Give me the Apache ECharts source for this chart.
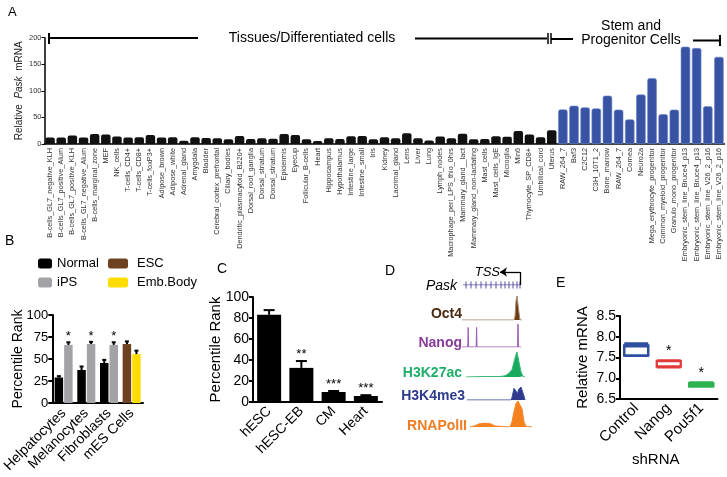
<!DOCTYPE html>
<html><head><meta charset="utf-8">
<script src="https://cdn.jsdelivr.net/npm/echarts@6/dist/echarts.min.js"></script>
<style>html,body{margin:0;padding:0;background:#fff}#c{width:727px;height:477px}</style>
</head><body><div id="c"></div>
<script>
// ---------- Panel A data ----------
const tissueCats = ['B-cells_GL7_negative_KLH','B-cells_GL7_positive_Alum','B-cells_GL7_positive_KLH','B-cells_GL7_negative_Alum','B-cells_marginal_zone','MEF','NK_cells','T-cells_CD4+','T-cells_CD8+','T-cells_foxP3+','Adipose_brown','Adipose_white','Adrenal_gland','Amygdala','Bladder','Cerebral_cortex_prefrontal','Ciliary_bodies','Dendritic_plasmacytoid_B220+','Dorsal_root_ganglia','Dorsal_striatum','Dorsal_striatum','Epidermis','Eyecup','Follicular_B-cells','Heart','Hippocampus','Hypothalamus','Intestine_large','Intestine_small','Iris','Kidney','Lacrimal_gland','Lens','Liver','Lung','Lymph_nodes','Macrophage_peri_LPS_thio_0hrs','Mammary_gland__lact','Mammary_gland_non-lactating','Mast_cells','Mast_cells_IgE','Microglia','Min6','Thymocyte_SP_CD8+','Umbilical_cord','Uterus'];
const tissueVals = [12,12,16,12,19,18,14,12,12.5,17,12,12.5,6,12.5,11.5,11,9,15,9.5,11,10,19,17,9,5.6,11,9.6,14.4,15,9,12.6,11,20,11,6.5,14,11,19.4,9,9.4,14.4,13.8,24.5,18,12.5,25.7];
const stemCats = ['RAW_264_7','Baf3','C2C12','C3H_10T1_2','Bone_marrow','RAW_264_7','Cornea','Neuro2a','Mega_erythrocyte_progenitor','Common_myeloid_progenitor','Granulo_mono_progenitor','Embryonic_stem_line_Bruce4_p13','Embryonic_stem_line_Bruce4_p13','Embryonic_stem_line_V26_2_p16','Embryonic_stem_line_V26_2_p16'];
const stemVals = [65,72,69,67,91,64.6,46.4,93,124,56,64.6,183,180.5,71,164];
const aTicks = [0,50,100,150,200];

// ---------- Panel B data ----------
const bCats = ['Helpatocytes','Melanocytes','Fibroblasts','mES Cells'];
const bNormal = [29,37.5,45.5,null];
const bNormalErr = [1.5,4,3.5,null];
const bIPS = [66,67,66,null];
const bIPSErr = [3,2.5,3,null];
const bESC = [null,null,null,67];
const bESCErr = [null,null,null,3];
const bEmb = [null,null,null,55.5];
const bEmbErr = [null,null,null,4];
const bStars = ['*','*','*',''];

// ---------- Panel C data ----------
const cCats = ['hESC','hESC-EB','CM','Heart'];
const cVals = [83,32.5,9.5,5.7];
const cErr = [4.5,6.5,1,0.8];
const cStars = ['','**','***','***'];

// ---------- Panel D data (position, signal) ----------
const geneSpan = [[8,0],[65,0]];
const geneExons = [11,16,21,26,31,36,41,46,50,54,58,62,65];
const tssPos = 65;
const oct4Track = [[7,0],[59,0],[60,0.15],[61,0.8],[62,1],[63,0.95],[64,0.3],[65,0],[67,0]];
const nanogTrack = [[7,0],[12.8,0],[13.2,0.85],[13.6,0],[21.2,0],[21.6,0.85],[22,0],[62.6,0],[63,1],[63.4,0],[66,0]];
const h3k27Track = [[11,0],[30,0.02],[45,0.02],[50,0.05],[54,0.15],[57,0.3],[59,0.6],[61,0.9],[62,1],[63,0.95],[64,0.6],[66,0.2],[68,0.03],[70,0]];
const h3k4Track = [[12,0],[56,0],[57,0.2],[59,0.9],[60,1],[61,0.8],[62.5,0.5],[63.5,0.8],[66,1],[67,0.9],[69,0.3],[70,0]];
const polTrack = [[15,0],[20,0.05],[24,0.12],[30,0.15],[36,0.12],[40,0.04],[42,0],[55,0],[57,0.2],[59,0.6],[61,0.9],[63,1],[65,0.95],[67,0.7],[69,0.2],[71,0.02],[77,0]];

// ---------- Panel E data ----------
const eCats = ['Control','Nanog','Pou5f1'];
const eBoxes = [[7.54,7.55,7.77,7.79,7.84],[7.26,7.28,7.285,7.415,7.43],[6.8,6.81,6.85,6.88,6.9]];
const eStars = ['','*','*'];

const FONT = 'Liberation Sans, Arial, Helvetica, sans-serif';
const chart = echarts.init(document.getElementById('c'));

function errSeries(gi, vals, errs, offset, capW, lw, stars, starSize, starGap){
  return {
    type:'custom', xAxisIndex:gi, yAxisIndex:gi, z:10, silent:true,
    data: vals.map((v,i)=>[i,v,errs[i]]).filter(d=>d[1]!=null),
    renderItem:(params, api)=>{
      const i=api.value(0), v=api.value(1), e=api.value(2);
      const p0=api.coord([i,v]), p1=api.coord([i,v+e]);
      const x=p0[0]+offset;
      const ch=[
        {type:'line', shape:{x1:x,y1:p0[1],x2:x,y2:p1[1]}, style:{stroke:'#000',lineWidth:lw}},
        {type:'line', shape:{x1:x-capW/2,y1:p1[1],x2:x+capW/2,y2:p1[1]}, style:{stroke:'#000',lineWidth:lw}}
      ];
      const s = stars ? stars[i] : '';
      if (s) ch.push({type:'text', style:{text:s, x:x, y:p1[1]-starGap, align:'center', verticalAlign:'bottom', fontSize:starSize, fontFamily:FONT, fill:'#000'}});
      return {type:'group', children:ch};
    }
  };
}
function starSeries(gi, boxes, stars, gap, size){
  return {
    type:'custom', xAxisIndex:gi, yAxisIndex:gi, z:10, silent:true,
    data: boxes.map((b,i)=>[i,b[4]]),
    renderItem:(params, api)=>{
      const i=api.value(0);
      const p=api.coord([i,api.value(1)]);
      return {type:'text', style:{text:stars[i], x:p[0], y:p[1]-gap, align:'center', verticalAlign:'bottom', fontSize:size, fontFamily:FONT, fill:'#000'}};
    }
  };
}
function trackSeries(gi, data, lineColor, fillColor){
  return {type:'line', xAxisIndex:gi, yAxisIndex:gi, data:data, symbol:'none', silent:true,
    lineStyle:{color:lineColor, width:1}, areaStyle:{color:fillColor, opacity:1}, itemStyle:{color:fillColor}};
}
const hiddenX = gi => ({type:'value', gridIndex:gi, min:0, max:80, show:false});
const hiddenY = gi => ({type:'value', gridIndex:gi, min:0, max:1, show:false});

const allCats = tissueCats.concat(stemCats);
const axisBlack = w => ({show:true, lineStyle:{color:'#000', width:w}});

const option = {
  animation:false,
  backgroundColor:'#fff',
  textStyle:{fontFamily:FONT},
  grid:[
    {left:44.5, top:37.7, width:680, height:106.3},   //0 A
    {left:47, top:315, width:96, height:88},          //1 B
    {left:253, top:297, width:129, height:105},       //2 C
    {left:620, top:316, width:97.5, height:83},       //3 E
    {left:455, top:265, width:80, height:20},         //4 gene
    {left:455, top:296, width:80, height:24},         //5 Oct4
    {left:455, top:324, width:80, height:23},         //6 Nanog
    {left:455, top:352, width:80, height:25},         //7 H3K27ac
    {left:455, top:387, width:80, height:13},         //8 H3K4me3
    {left:455, top:401, width:80, height:26}          //9 RNAPolII
  ],
  xAxis:[
    {type:'category', gridIndex:0, data:allCats, axisLine:axisBlack(1.5), axisTick:{show:false},
     axisLabel:{rotate:90, interval:0, fontSize:7.3, color:'#333', margin:4}},
    {type:'category', gridIndex:1, data:bCats, axisLine:axisBlack(2), axisTick:{alignWithLabel:true, length:4, lineStyle:{width:2,color:'#000'}},
     axisLabel:{rotate:45, interval:0, fontSize:14, color:'#000', margin:8}},
    {type:'category', gridIndex:2, data:cCats, axisLine:axisBlack(2), axisTick:{alignWithLabel:true, length:4, lineStyle:{width:2,color:'#000'}},
     axisLabel:{rotate:45, interval:0, fontSize:14, color:'#000', margin:7}},
    {type:'category', gridIndex:3, data:eCats, axisLine:axisBlack(2), axisTick:{alignWithLabel:true, length:4, lineStyle:{width:2,color:'#000'}},
     axisLabel:{rotate:45, interval:0, fontSize:15, color:'#000', margin:7},
     name:'shRNA', nameLocation:'middle', nameGap:53, nameMoveOverlap:false, nameTextStyle:{fontSize:15, color:'#000', padding:[0,26,0,0]}},
    hiddenX(4), hiddenX(5), hiddenX(6), hiddenX(7), hiddenX(8), hiddenX(9)
  ],
  yAxis:[
    {type:'value', gridIndex:0, min:aTicks[0], max:aTicks[aTicks.length-1], interval:50, axisLine:axisBlack(1.5),
     axisTick:{show:true, length:3, lineStyle:{color:'#000'}}, splitLine:{show:false},
     axisLabel:{fontSize:7.5, color:'#333', margin:3},
     name:'{n|Relative  }{i|Pask}{n|  mRNA}', nameLocation:'middle', nameGap:20, nameMoveOverlap:false,
     nameTextStyle:{rich:{n:{fontSize:10, color:'#222', fontFamily:FONT}, i:{fontSize:10, fontStyle:'italic', color:'#222', fontFamily:FONT}}}},
    {type:'value', gridIndex:1, min:0, max:100, interval:25, axisLine:axisBlack(2),
     axisTick:{show:true, length:4, lineStyle:{color:'#000', width:2}}, splitLine:{show:false},
     axisLabel:{fontSize:13, color:'#000', margin:4},
     name:'Percentile Rank', nameLocation:'middle', nameGap:27, nameMoveOverlap:false, nameTextStyle:{fontSize:14, color:'#000'}},
    {type:'value', gridIndex:2, min:0, max:100, interval:20, axisLine:axisBlack(2),
     axisTick:{show:true, length:4, lineStyle:{color:'#000', width:2}}, splitLine:{show:false},
     axisLabel:{fontSize:14, color:'#000', margin:4},
     name:'Percentile Rank', nameLocation:'middle', nameGap:30, nameMoveOverlap:false, nameTextStyle:{fontSize:15, color:'#000'}},
    {type:'value', gridIndex:3, min:6.5, max:8.5, interval:0.5, axisLine:axisBlack(2),
     axisTick:{show:true, length:4, lineStyle:{color:'#000', width:2}}, splitLine:{show:false},
     axisLabel:{fontSize:14, color:'#000', margin:4, formatter:v=>v.toFixed(1)},
     name:'Relative mRNA', nameLocation:'middle', nameGap:30, nameMoveOverlap:false, nameTextStyle:{fontSize:15, color:'#000'}},
    hiddenY(4), hiddenY(5), hiddenY(6), hiddenY(7), hiddenY(8), hiddenY(9)
  ],
  legend:[
    {data:['Normal'], left:33, top:252, itemWidth:14, itemHeight:10, icon:'roundRect', textStyle:{fontSize:13, color:'#000', fontFamily:FONT}, selectedMode:false},
    {data:['iPS'], left:33, top:271, itemWidth:14, itemHeight:10, icon:'roundRect', textStyle:{fontSize:13, color:'#000', fontFamily:FONT}, selectedMode:false},
    {data:['ESC'], left:103, top:252, itemWidth:20, itemHeight:10, icon:'roundRect', textStyle:{fontSize:13, color:'#000', fontFamily:FONT, padding:[0,0,0,4]}, selectedMode:false},
    {data:['Emb.Body'], left:103, top:271, itemWidth:20, itemHeight:10, icon:'roundRect', textStyle:{fontSize:13, color:'#000', fontFamily:FONT, padding:[0,0,0,4]}, selectedMode:false}
  ],
  series:[
    // Panel A
    {name:'Tissues', type:'bar', xAxisIndex:0, yAxisIndex:0, stack:'a', barCategoryGap:'15%',
     data:tissueVals.concat(stemVals.map(()=>'-')), itemStyle:{color:'#111', borderRadius:[2,2,0,0]}},
    {name:'Stem', type:'bar', xAxisIndex:0, yAxisIndex:0, stack:'a', barCategoryGap:'15%',
     data:tissueVals.map(()=>'-').concat(stemVals), itemStyle:{color:'#3953a4', borderColor:'#6d86c8', borderWidth:0.6, borderRadius:[2,2,0,0]}},
    // Panel B
    {name:'Normal', type:'bar', xAxisIndex:1, yAxisIndex:1, stack:'x', barWidth:8.5, barGap:'12%',
     data:bNormal.map(v=>v==null?'-':v), itemStyle:{color:'#000'}},
    {name:'iPS', type:'bar', xAxisIndex:1, yAxisIndex:1, stack:'y', barWidth:8.5, barGap:'12%',
     data:bIPS.map(v=>v==null?'-':v), itemStyle:{color:'#a3a3a7'}},
    {name:'ESC', type:'bar', xAxisIndex:1, yAxisIndex:1, stack:'x', barWidth:8.5, barGap:'12%',
     data:bESC.map(v=>v==null?'-':v), itemStyle:{color:'#6e4220'}},
    {name:'Emb.Body', type:'bar', xAxisIndex:1, yAxisIndex:1, stack:'y', barWidth:8.5, barGap:'12%',
     data:bEmb.map(v=>v==null?'-':v), itemStyle:{color:'#ffdc00'}},
    errSeries(1, bNormal, bNormalErr, -4.75, 4, 2, null, 13, 0),
    errSeries(1, bIPS, bIPSErr, 4.75, 4, 2, bStars, 13, -1),
    errSeries(1, bESC, bESCErr, -4.75, 4, 2, null, 13, 0),
    errSeries(1, bEmb, bEmbErr, 4.75, 4, 2, null, 13, 0),
    // Panel C
    {name:'C', type:'bar', xAxisIndex:2, yAxisIndex:2, barWidth:24, data:cVals, itemStyle:{color:'#000'}},
    errSeries(2, cVals, cErr, 0, 11, 2, cStars, 13, 0),
    // Panel E
    {name:'E', type:'boxplot', xAxisIndex:3, yAxisIndex:3, boxWidth:[24,24],
     data:[
       {value:eBoxes[0], itemStyle:{color:'#fff', borderColor:'#2f4fa0', borderWidth:2.5}},
       {value:eBoxes[1], itemStyle:{color:'#fff', borderColor:'#e23a3a', borderWidth:2.3}},
       {value:eBoxes[2], itemStyle:{color:'#2db24f', borderColor:'#2db24f', borderWidth:2.5}}
     ]},
    starSeries(3, eBoxes, eStars, 2, 14),
    // Panel D
    {type:'line', xAxisIndex:4, yAxisIndex:4, data:geneSpan, symbol:'none', silent:true, lineStyle:{color:'#5656a6', width:1.2},
     markLine:{silent:true, symbol:['none','arrow'], symbolSize:7, label:{show:false}, lineStyle:{color:'#000', width:1.3, type:'solid'},
       data:[
         [{coord:[tssPos,0], symbol:'none'},{coord:[tssPos,0.65], symbol:'none'}],
         [{coord:[tssPos,0.65], symbol:'none'},{coord:[tssPos-20,0.65], symbol:'arrow'}]
       ]}},
    {type:'scatter', xAxisIndex:4, yAxisIndex:4, data:geneExons.map(p=>[p,0]), symbol:'rect', symbolSize:[1.3,7], silent:true, itemStyle:{color:'#5656a6'}},
    trackSeries(5, oct4Track, '#a88a6e', '#6b3a12'),
    trackSeries(6, nanogTrack, '#9b5bb5', '#8a3c9c'),
    trackSeries(7, h3k27Track, '#3cb878', '#1aaa5e'),
    trackSeries(8, h3k4Track, '#3a4a9c', '#2e3a8c'),
    trackSeries(9, polTrack, '#f5862a', '#f5821f')
  ],
  graphic:[
    {type:'text', left:8, top:6, style:{text:'A', fontSize:13, fill:'#000', fontFamily:FONT}},
    {type:'text', left:5, top:234, style:{text:'B', fontSize:14, fill:'#000', fontFamily:FONT}},
    {type:'text', left:217, top:262, style:{text:'C', fontSize:14, fill:'#000', fontFamily:FONT}},
    {type:'text', left:385, top:264, style:{text:'D', fontSize:14, fill:'#000', fontFamily:FONT}},
    {type:'text', left:556, top:276, style:{text:'E', fontSize:14, fill:'#000', fontFamily:FONT}},
    // Panel A header brackets
    {type:'line', shape:{x1:49,y1:38,x2:198,y2:38}, style:{stroke:'#000', lineWidth:2}},
    {type:'line', shape:{x1:49,y1:33,x2:49,y2:44}, style:{stroke:'#000', lineWidth:2}},
    {type:'text', x:312, y:38, style:{text:'Tissues/Differentiated cells', fontSize:14, fill:'#000', fontFamily:FONT, align:'center', verticalAlign:'middle'}},
    {type:'line', shape:{x1:415,y1:38.5,x2:547,y2:38.5}, style:{stroke:'#000', lineWidth:2}},
    {type:'line', shape:{x1:548,y1:33,x2:548,y2:44}, style:{stroke:'#000', lineWidth:1.5}},
    {type:'line', shape:{x1:551,y1:33,x2:551,y2:44}, style:{stroke:'#000', lineWidth:1.5}},
    {type:'line', shape:{x1:551,y1:39,x2:573,y2:39}, style:{stroke:'#000', lineWidth:2}},
    {type:'text', x:631, y:26, style:{text:'Stem and', fontSize:14, fill:'#000', fontFamily:FONT, align:'center', verticalAlign:'middle'}},
    {type:'text', x:631, y:40, style:{text:'Progenitor Cells', fontSize:14, fill:'#000', fontFamily:FONT, align:'center', verticalAlign:'middle'}},
    {type:'line', shape:{x1:693,y1:40.5,x2:720,y2:40.5}, style:{stroke:'#000', lineWidth:2}},
    {type:'line', shape:{x1:720,y1:35,x2:720,y2:46}, style:{stroke:'#000', lineWidth:2}},
    // Panel D labels
    {type:'text', x:500, y:272, style:{text:'TSS', fontSize:13, fontStyle:'italic', fill:'#000', fontFamily:FONT, align:'right', verticalAlign:'middle'}},
    {type:'text', x:457, y:286, style:{text:'Pask', fontSize:14, fontStyle:'italic', fill:'#000', fontFamily:FONT, align:'right', verticalAlign:'middle'}},
    {type:'text', x:462, y:314, style:{text:'Oct4', fontSize:14, fontWeight:'bold', fill:'#4a2a10', fontFamily:FONT, align:'right', verticalAlign:'middle'}},
    {type:'text', x:462, y:343, style:{text:'Nanog', fontSize:14, fontWeight:'bold', fill:'#8a3c9c', fontFamily:FONT, align:'right', verticalAlign:'middle'}},
    {type:'text', x:462, y:373, style:{text:'H3K27ac', fontSize:14, fontWeight:'bold', fill:'#1fae6a', fontFamily:FONT, align:'right', verticalAlign:'middle'}},
    {type:'text', x:465, y:396, style:{text:'H3K4me3', fontSize:14, fontWeight:'bold', fill:'#2e3a8c', fontFamily:FONT, align:'right', verticalAlign:'middle'}},
    {type:'text', x:467, y:426, style:{text:'RNAPolII', fontSize:14, fontWeight:'bold', fill:'#f07d22', fontFamily:FONT, align:'right', verticalAlign:'middle'}}
  ]
};
chart.setOption(option);
</script>
</body></html>
